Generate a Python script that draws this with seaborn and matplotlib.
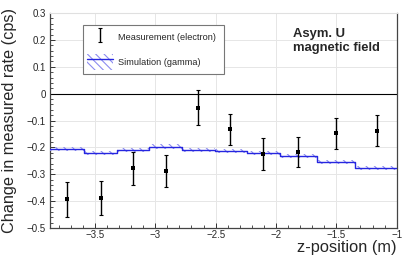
import matplotlib
matplotlib.use("Agg")
import matplotlib.pyplot as plt
import numpy as np
import pandas as pd
import seaborn as sns
from matplotlib.lines import Line2D
from matplotlib.patches import Patch
from matplotlib.legend_handler import HandlerErrorbar
from matplotlib.ticker import MultipleLocator, FuncFormatter

# measurement (electron), one point per bin
z_pos = [-3.734, -3.452, -3.182, -2.914, -2.646, -2.378, -2.105, -1.815, -1.505, -1.166]
meas_rate = [-0.393, -0.388, -0.278, -0.287, -0.052, -0.133, -0.225, -0.216, -0.147, -0.138]
meas_err = [0.065, 0.062, 0.062, 0.060, 0.064, 0.059, 0.059, 0.056, 0.058, 0.057]

# simulation (gamma), variable-width bins
bin_edges = [-3.876, -3.588, -3.320, -3.050, -2.781, -2.505, -2.243, -1.967, -1.663, -1.345, -1.0]
sim_rate = [-0.207, -0.222, -0.210, -0.197, -0.210, -0.213, -0.222, -0.232, -0.255, -0.278]
sim_err = [0.008] * 10

meas = pd.DataFrame({"z": z_pos, "rate": meas_rate, "err": meas_err})
sim = pd.DataFrame({"edge": bin_edges, "rate": sim_rate + sim_rate[-1:],
                    "err": sim_err + sim_err[-1:]})

sns.set_style("white")
plt.rcParams["font.family"] = ["Liberation Sans", "DejaVu Sans"]
plt.rcParams["axes.unicode_minus"] = True
plt.rcParams["hatch.linewidth"] = 0.8

fig = plt.figure(figsize=(4.15, 2.59), dpi=100)
ax = fig.add_axes([0.1193, 0.1197, 0.8366, 0.830])

blue = "#2626e0"
hatch_col = "#8c8cf0"

# simulation error band + step line
ax.fill_between(sim["edge"], sim["rate"] - sim["err"], sim["rate"] + sim["err"],
                step="post", facecolor="none", edgecolor=hatch_col,
                hatch="\\\\\\\\", linewidth=0, zorder=3)
sns.lineplot(data=sim, x="edge", y="rate", drawstyle="steps-post", color=blue,
             linewidth=1.0, ax=ax, zorder=4, estimator=None)

# measurement points with error bars
eb = ax.errorbar(meas["z"], meas["rate"], yerr=meas["err"], fmt="none",
                 ecolor="black", elinewidth=1.0, capsize=1.5, capthick=0.8, zorder=5)
sns.scatterplot(data=meas, x="z", y="rate", color="black", s=6, marker="s",
                linewidth=0, ax=ax, zorder=6)

ax.axhline(0, color="black", linewidth=0.8, zorder=2)

ax.set_xlim(bin_edges[0], bin_edges[-1])
ax.set_ylim(-0.5, 0.3)


def fmt(v, pos):
    v = round(v, 3)
    if v == 0:
        return "0"
    return f"{v:g}".replace("-", "\u2212")


ax.xaxis.set_major_locator(MultipleLocator(0.5))
ax.xaxis.set_minor_locator(MultipleLocator(0.1))
ax.yaxis.set_major_locator(MultipleLocator(0.1))
ax.yaxis.set_minor_locator(MultipleLocator(0.02))
ax.xaxis.set_major_formatter(FuncFormatter(fmt))
ax.yaxis.set_major_formatter(FuncFormatter(fmt))

ax.tick_params(which="both", direction="in", left=True, bottom=True,
               right=False, top=False, labelsize=7, color="#333333")
ax.tick_params(axis="x", pad=1.5)
ax.tick_params(axis="y", pad=2.5)
ax.tick_params(which="major", length=3.8, width=0.7)
ax.tick_params(which="minor", length=2.0, width=0.6)

ax.grid(True, which="major", color="#e6e6e6", linewidth=0.7, zorder=0)
ax.set_axisbelow(True)

for side in ["left", "bottom", "right"]:
    ax.spines[side].set_color("#444444")
    ax.spines[side].set_linewidth(0.9)
ax.spines["top"].set_color("#e0e0e0")
ax.spines["top"].set_linewidth(0.8)

ax.set_xlabel("z-position (m)", fontsize=11.8, ha="right")
ax.xaxis.set_label_coords(1.0, -0.055)
ax.set_ylabel("Change in measured rate (cps)", fontsize=11.7)
ax.yaxis.set_label_coords(-0.094, 0.5)

ax.text(0.701, 0.93, "Asym. U\nmagnetic field", transform=ax.transAxes,
        ha="left", va="top", fontsize=9.4, fontweight="bold", linespacing=1.25)

sim_handle = (Patch(facecolor="none", edgecolor=hatch_col, hatch="\\\\\\\\", linewidth=0),
              Line2D([], [], color=blue, linewidth=1.0))
leg = ax.legend([eb, sim_handle], ["Measurement (electron)", "Simulation (gamma)"],
                loc="upper left", bbox_to_anchor=(0.0956, 0.701, 0.407, 0.243),
                mode="expand", fontsize=6.6, frameon=True, fancybox=False,
                framealpha=1, edgecolor="#777777", borderpad=0.5,
                labelspacing=1.0, handlelength=2.8, handleheight=2.2,
                handletextpad=0.5, borderaxespad=0,
                handler_map={type(eb): HandlerErrorbar(yerr_size=0.8)})
leg.get_frame().set_linewidth(0.8)
leg.set_zorder(10)

fig.savefig("out.png", dpi=100, facecolor="white")
